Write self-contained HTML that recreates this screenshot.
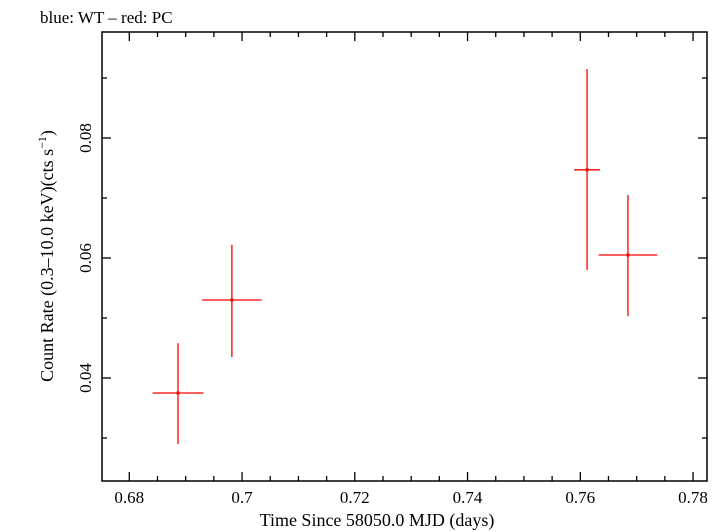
<!DOCTYPE html>
<html><head><meta charset="utf-8"><style>
body{margin:0;background:#fff;}
svg{display:block;font-family:"Liberation Serif",serif;}
</style></head><body>
<svg id="chart" width="725" height="532" viewBox="0 0 725 532" xmlns="http://www.w3.org/2000/svg">
<text x="40" y="23" font-size="17">blue: WT – red: PC</text>
<rect x="102" y="32" width="605" height="449" fill="none" stroke="#000" stroke-width="1.5"/>
<g id="axes"></g>
<g id="series"></g>
<text x="377" y="526" font-size="18" text-anchor="middle">Time Since 58050.0 MJD (days)</text>
<text transform="translate(53,256) rotate(-90)" font-size="18" text-anchor="middle">Count Rate (0.3–10.0 keV)(cts s<tspan baseline-shift="super" font-size="12">−1</tspan>)</text>
</svg>
<script>
const times=[0.68864,0.6982,0.7612,0.76845];
const timeErr=[0.00452,0.0053,0.0023,0.0052];
const rates=[0.0375,0.053,0.0747,0.0605];
const rateLo=[0.029,0.0435,0.058,0.0503];
const rateHi=[0.0458,0.0622,0.0915,0.0705];
const xTicks=[0.68,0.70,0.72,0.74,0.76,0.78];
const xTickLabels=["0.68","0.7","0.72","0.74","0.76","0.78"];
const yTicks=[0.04,0.06,0.08];
const yTickLabels=["0.04","0.06","0.08"];
const X0=102,X1=707,Y0=481,Y1=32;
function sx(v){return 129.3+(v-0.68)*5637.5;}
function sy(v){return 378-(v-0.04)*6000;}
const NS="http://www.w3.org/2000/svg";
const axes=document.getElementById('axes'),ser=document.getElementById('series');
function line(p,x1,y1,x2,y2,c,w){const l=document.createElementNS(NS,'line');l.setAttribute('x1',x1);l.setAttribute('y1',y1);l.setAttribute('x2',x2);l.setAttribute('y2',y2);l.setAttribute('stroke',c);l.setAttribute('stroke-width',w);p.appendChild(l);return l;}
function txt(p,x,y,s,a){const t=document.createElementNS(NS,'text');t.setAttribute('x',x);t.setAttribute('y',y);t.setAttribute('font-size','17');t.setAttribute('text-anchor',a);t.textContent=s;p.appendChild(t);return t;}
// x ticks major+minor
for(let v=0.675;v<=0.7851;v+=0.005){const x=sx(v);if(x<X0||x>X1)continue;const maj=Math.abs(Math.round(v*100)/100-v)<1e-6&&Math.round(v*100)%2===0;const L=maj?9:5;
let t=line(axes,x,Y0,x,Y0-L,'#000',1.3);
t=line(axes,x,Y1,x,Y1+L,'#000',1.3);}
xTicks.forEach((v,i)=>{const t=txt(axes,sx(v),503,xTickLabels[i],'middle');

});
for(let v=0.02;v<=0.1;v+=0.01){const y=sy(v);if(y<Y1||y>Y0)continue;const maj=Math.round(v*100)%2===0;const L=maj?9:5;
let t=line(axes,X0,y,X0+L,y,'#000',1.3);
t=line(axes,X1,y,X1-L,y,'#000',1.3);}
yTicks.forEach((v,i)=>{const t=txt(axes,0,0,yTickLabels[i],'middle');t.setAttribute('transform',`translate(91,${sy(v)}) rotate(-90)`);t.removeAttribute('x');t.removeAttribute('y');

});
times.forEach((t,i)=>{
let e=line(ser,sx(t-timeErr[i]),sy(rates[i]),sx(t+timeErr[i]),sy(rates[i]),'#f00',1.3);


e=line(ser,sx(t),sy(rateLo[i]),sx(t),sy(rateHi[i]),'#f00',1.3);


const c=document.createElementNS(NS,'rect');c.setAttribute('x',sx(t)-1.5);c.setAttribute('y',sy(rates[i])-1.5);c.setAttribute('width',3);c.setAttribute('height',3);c.setAttribute('fill','#f00');


ser.appendChild(c);});
</script>
</body></html>
